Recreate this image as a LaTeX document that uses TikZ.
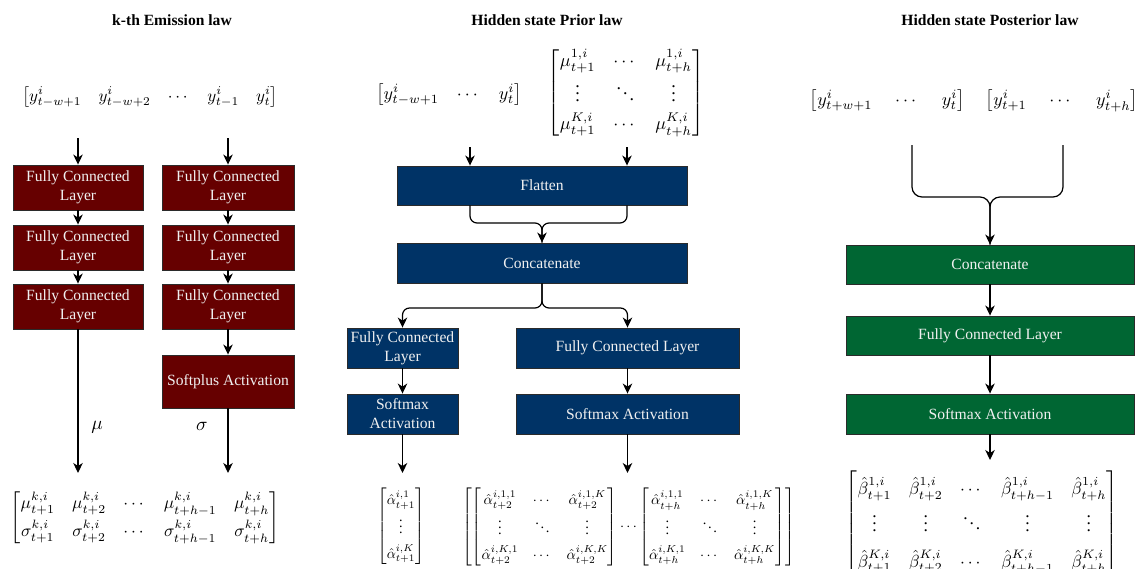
\documentclass[tikz,border=0pt]{standalone}
\usepackage{amsmath}
\usepackage{fontspec}
\setmainfont{Liberation Serif}
\usetikzlibrary{arrows.meta}
\definecolor{cred}{HTML}{660000}
\definecolor{cblue}{HTML}{003366}
\definecolor{cgreen}{HTML}{006633}
\definecolor{ctext}{HTML}{F0F0F0}
\definecolor{cborder}{HTML}{2B2B2B}
\begin{document}
\begin{tikzpicture}[x=1pt,y=-1pt,
  box/.style={draw=cborder, line width=0.9pt, text=ctext, align=center, font=\fontsize{15.6}{19}\selectfont, inner sep=0pt},
  redbox/.style={box, fill=cred, minimum width=130, minimum height=45},
  bluebox/.style={box, fill=cblue, minimum height=40},
  greenbox/.style={box, fill=cgreen, minimum width=288, minimum height=39},
  arr/.style={-{Stealth[length=10,width=9.5,inset=3]}, line width=1.2pt},
  ln/.style={line width=1.2pt},
  ttl/.style={font=\bfseries\fontsize{15.6}{19}\selectfont},
  mth/.style={scale=1.8, inner sep=0pt},
  lbl/.style={scale=1.9, inner sep=0pt}
]
\clip (0,0) rectangle (1138,568);
\fill[white] (0,0) rectangle (1138,568);

% ---------- titles
\node[ttl] (t1) at (172,20) {k-th Emission law};
\node[ttl] (t2) at (547,20) {Hidden state Prior law};
\node[ttl] (t3) at (990,20) {Hidden state Posterior law};

% ---------- column 1
\node[mth, scale=1.7/1.8] (in1) at (150,97) {$\begin{bmatrix} y^i_{t-w+1} & y^i_{t-w+2} & \cdots & y^i_{t-1} & y^i_{t}\end{bmatrix}$};
\node[redbox] (l1) at (78,187.5) {Fully Connected\\Layer};
\node[redbox] (l2) at (78,247.5) {Fully Connected\\Layer};
\node[redbox] (l3) at (78,306.5) {Fully Connected\\Layer};
\node[redbox, minimum width=132] (r1) at (228,187.5) {Fully Connected\\Layer};
\node[redbox, minimum width=132] (r2) at (228,247.5) {Fully Connected\\Layer};
\node[redbox, minimum width=132] (r3) at (228,306.5) {Fully Connected\\Layer};
\node[redbox, minimum width=132, minimum height=53] (sp) at (228,381.5) {Softplus Activation};
\node[mth, scale=1.73/1.8, anchor=north] (out1) at (145,489) {$\renewcommand{\arraystretch}{1.35}\begin{bmatrix} \mu^{k,i}_{t+1} & \mu^{k,i}_{t+2} & \cdots & \mu^{k,i}_{t+h-1} & \mu^{k,i}_{t+h}\\ \sigma^{k,i}_{t+1} & \sigma^{k,i}_{t+2} & \cdots & \sigma^{k,i}_{t+h-1} & \sigma^{k,i}_{t+h}\end{bmatrix}$};
\coordinate (c1a) at (78,138);
\coordinate (c1b) at (228,138);
\coordinate (mutip) at (78,473);
\coordinate (sgtip) at (228,473);
\draw[arr] (c1a) -- (l1.north);
\draw[arr] (c1b) -- (r1.north);
\draw[arr] (l1) -- (l2);
\draw[arr] (l2) -- (l3);
\draw[arr] (r1) -- (r2);
\draw[arr] (r2) -- (r3);
\draw[arr] (r3) -- (sp);
\draw[arr] (l3.south) -- (mutip);
\draw[arr] (sp.south) -- (sgtip);
\node[lbl] (mu) at (97,427) {$\mu$};
\node[lbl] (sg) at (202,426) {$\sigma$};

% ---------- column 2
\node[mth] (in2a) at (449,95) {$\begin{bmatrix} y^i_{t-w+1} & \cdots & y^i_{t}\end{bmatrix}$};
\node[mth] (in2b) at (626,92.5) {$\renewcommand{\arraystretch}{1.3}\begin{bmatrix} \mu^{1,i}_{t+1} & \cdots & \mu^{1,i}_{t+h}\\ \vdots & \ddots & \vdots\\ \mu^{K,i}_{t+1} & \cdots & \mu^{K,i}_{t+h}\end{bmatrix}$};
\node[bluebox, minimum width=290, minimum height=39] (flat) at (542,185.5) {Flatten};
\node[bluebox, minimum width=290] (cat) at (542,263) {Concatenate};
\node[bluebox, minimum width=111] (fcL) at (402.5,348) {Fully Connected\\Layer};
\node[bluebox, minimum width=111] (smL) at (402.5,414) {Softmax\\Activation};
\node[bluebox, minimum width=223] (fcR) at (627.5,348) {Fully Connected Layer};
\node[bluebox, minimum width=223] (smR) at (627.5,414) {Softmax Activation};
\coordinate (c2a) at (470,147);
\coordinate (c2b) at (627,147);
\draw[arr] (c2a) -- (c2a |- flat.north);
\draw[arr] (c2b) -- (c2b |- flat.north);
\coordinate (fj) at (542,223);
\draw[ln, rounded corners=7] (c2a |- flat.south) |- (fj) -- (cat.north);
\draw[arr, rounded corners=7] (c2b |- flat.south) |- (fj) -- (cat.north);
\coordinate (cj) at (542,308);
\draw[arr, rounded corners=7] (cat.south) -- (cj) -| (fcL.north);
\draw[arr, rounded corners=7] (cat.south) -- (cj) -| (fcR.north);
\draw[arr] (fcL) -- (smL);
\draw[arr] (fcR) -- (smR);
\node[mth, scale=1.42/1.8, anchor=north] (out2a) at (401,487) {$\renewcommand{\arraystretch}{1.45}\begin{bmatrix}\hat\alpha^{i,1}_{t+1}\\ \vdots\\ \hat\alpha^{i,K}_{t+1}\end{bmatrix}$};
\node[mth, scale=1.45/1.8, anchor=north] (out2b) at (628.5,487) {$\renewcommand{\arraystretch}{1.45}\begin{bmatrix}\begin{bmatrix}\hat\alpha^{i,1,1}_{t+2} & \cdots & \hat\alpha^{i,1,K}_{t+2}\\ \vdots & \ddots & \vdots\\ \hat\alpha^{i,K,1}_{t+2} & \cdots & \hat\alpha^{i,K,K}_{t+2}\end{bmatrix}\cdots\begin{bmatrix}\hat\alpha^{i,1,1}_{t+h} & \cdots & \hat\alpha^{i,1,K}_{t+h}\\ \vdots & \ddots & \vdots\\ \hat\alpha^{i,K,1}_{t+h} & \cdots & \hat\alpha^{i,K,K}_{t+h}\end{bmatrix}\end{bmatrix}$};
\coordinate (atipL) at (402.5,473);
\coordinate (atipR) at (627.5,473);
\draw[arr] (smL.south) -- (atipL);
\draw[arr] (smR.south) -- (atipR);

% ---------- column 3
\node[mth] (in3) at (974,101) {$\setlength{\arraycolsep}{6.3pt}\begin{bmatrix} y^i_{t+w+1} & \cdots & y^i_{t}\end{bmatrix}\quad\begin{bmatrix} y^i_{t+1} & \cdots & y^i_{t+h}\end{bmatrix}$};
\node[greenbox] (cat3) at (990,264.5) {Concatenate};
\node[greenbox] (fc3) at (990,335.5) {Fully Connected Layer};
\node[greenbox, minimum height=40] (sm3) at (990,414) {Softmax Activation};
\coordinate (c3a) at (912,145);
\coordinate (c3b) at (1063,145);
\coordinate (gj) at (990,197);
\draw[ln, rounded corners=10] (c3a) |- (gj) -- (cat3.north);
\draw[arr, rounded corners=10] (c3b) |- (gj) -- (cat3.north);
\draw[arr] (cat3) -- (fc3);
\draw[arr] (fc3) -- (sm3);
\coordinate (btip) at (990,460);
\draw[arr] (sm3.south) -- (btip);
\node[mth, scale=1.75/1.8, anchor=north] (out3) at (982,469) {$\renewcommand{\arraystretch}{1.7}\begin{bmatrix}\hat\beta^{1,i}_{t+1} & \hat\beta^{1,i}_{t+2} & \cdots & \hat\beta^{1,i}_{t+h-1} & \hat\beta^{1,i}_{t+h}\\ \vdots & \vdots & \ddots & \vdots & \vdots\\ \hat\beta^{K,i}_{t+1} & \hat\beta^{K,i}_{t+2} & \cdots & \hat\beta^{K,i}_{t+h-1} & \hat\beta^{K,i}_{t+h}\end{bmatrix}$};
\end{tikzpicture}
\end{document}
